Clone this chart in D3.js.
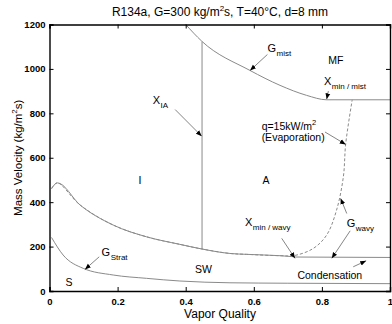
<!DOCTYPE html>
<html><head><meta charset="utf-8">
<script src="https://cdn.jsdelivr.net/npm/d3@7/dist/d3.min.js"></script>
<style>
body{margin:0;background:#fff;}
svg{display:block;font-family:Arial,"Liberation Sans",sans-serif;}
</style></head>
<body><svg id="c" width="392" height="324"></svg>
<script>
// ---- data (vapor quality q, mass velocity G) ----
const xTicks = [0, 0.2, 0.4, 0.6, 0.8, 1];
const yTicks = [0, 200, 400, 600, 800, 1000, 1200];

const mistQ = [0.40, 0.447, 0.589, 0.677, 0.755, 0.814, 1.0];
const mistG = [1200, 1125, 993, 926, 881, 861, 861];

const xiaQ = [0.448, 0.448];
const xiaG = [1123, 189];

const wavyQ = [0.006, 0.023, 0.09, 0.187, 0.285, 0.383, 0.448, 0.53, 0.579, 0.677, 0.72];
const wavyG = [461, 487, 387, 297, 244, 210, 189, 169, 165, 159, 154];

const condQ = [0.72, 1.0];
const condG = [153, 151];

const evapQ = [0.006, 0.023, 0.09, 0.187, 0.285, 0.383, 0.448, 0.53, 0.579, 0.677, 0.72, 0.775, 0.814, 0.843, 0.863, 0.87, 0.889];
const evapG = [461, 487, 387, 297, 244, 210, 189, 169, 165, 159, 160, 192, 252, 364, 514, 664, 861];

const stratQ = [0.006, 0.04, 0.099, 0.187, 0.285, 0.383, 0.53, 0.7, 1.0];
const stratG = [241, 162, 102, 72, 57, 45, 37, 35, 33];

// region / plain labels
const plainText = ["MF", "I", "A", "SW", "S"];
const plainQ = [0.841, 0.266, 0.636, 0.452, 0.057];
const plainG = [1038, 499, 497, 97, 39];

// subscripted labels
const subMain = ["G", "X", "X", "X", "G", "G"];
const subText = ["mist", "min / mist", "IA", "min / wavy", "wavy", "Strat"];
const subQ = [0.640, 0.806, 0.303, 0.574, 0.873, 0.153];
const subG = [1092, 946, 858, 310, 308, 175];

// arrows
const arrFromQ = [0.640, 0.819, 0.369, 0.809, 0.682, 0.873, 0.883, 0.892, 0.146];
const arrFromG = [1065, 900, 817, 716, 237, 349, 271, 109, 154];
const arrToQ   = [0.589, 0.814, 0.447, 0.870, 0.721, 0.855, 0.829, 0.930, 0.104];
const arrToG   = [993, 863, 697, 660, 147, 417, 147, 136, 97];

// ---- drawing ----
const svg = d3.select("#c");
const x = d3.scaleLinear().domain([0, 1]).range([49.5, 390]);
const y = d3.scaleLinear().domain([0, 1200]).range([291, 24.5]);
const gray = "#8a8a8a";

svg.append("defs").append("marker")
  .attr("id", "ah").attr("viewBox", "0 0 10 10").attr("refX", 10).attr("refY", 5)
  .attr("markerWidth", 6).attr("markerHeight", 6).attr("markerUnits", "userSpaceOnUse")
  .attr("orient", "auto")
  .append("path").attr("d", "M0,1 L10,5 L0,9 Z").attr("fill", "#000");

function series(qs, gs) { return qs.map((q, i) => [q, gs[i]]); }
const lineMono = d3.line().x(d => x(d[0])).y(d => y(d[1])).curve(d3.curveMonotoneX);
const lineCR = d3.line().x(d => x(d[0])).y(d => y(d[1])).curve(d3.curveCatmullRom.alpha(0.5));

const curves = svg.append("g").attr("fill", "none").attr("stroke", gray).attr("stroke-width", 1);
curves.append("path").attr("d", lineMono(series(mistQ, mistG)));
curves.append("path").attr("d", lineCR(series(xiaQ, xiaG)));
curves.append("path").attr("d", lineMono(series(wavyQ, wavyG)));
curves.append("path").attr("d", lineCR(series(condQ, condG)));
curves.append("path").attr("d", lineCR(series(evapQ, evapG))).attr("stroke-dasharray", "3,2");
curves.append("path").attr("d", lineMono(series(stratQ, stratG)));

// arrows
const ag = svg.append("g");
arrFromQ.forEach((q, i) => {
  ag.append("line")
    .attr("x1", x(q)).attr("y1", y(arrFromG[i]))
    .attr("x2", x(arrToQ[i])).attr("y2", y(arrToG[i]))
    .attr("stroke", "#666").attr("stroke-width", 0.8)
    .attr("marker-end", "url(#ah)");
});

// axes
const ax = svg.append("g");
ax.append("g").attr("transform", `translate(0,${y(0)})`)
  .call(d3.axisBottom(x).tickValues(xTicks).tickSize(-4).tickPadding(7).tickFormat(d3.format("~g")));
ax.append("g").attr("transform", `translate(0,${y(1200)})`)
  .call(d3.axisTop(x).tickValues(xTicks).tickSize(-4).tickFormat(""));
ax.append("g").attr("transform", `translate(${x(0)},0)`)
  .call(d3.axisLeft(y).tickValues(yTicks).tickSize(-4).tickPadding(4).tickFormat(d3.format("d")));
ax.append("g").attr("transform", `translate(${x(1)},0)`)
  .call(d3.axisRight(y).tickValues(yTicks).tickSize(-4).tickFormat(""));
ax.selectAll(".domain").attr("stroke", "#000").attr("stroke-width", 1.4);
ax.selectAll(".tick line").attr("stroke", "#000").attr("stroke-width", 1);
ax.selectAll(".tick text").attr("font-size", 9.5).attr("font-weight", "bold")
  .attr("font-family", "Arial, 'Liberation Sans', sans-serif").attr("fill", "#000");

// title
const title = svg.append("text").attr("x", 220).attr("y", 16).attr("text-anchor", "middle")
  .attr("font-size", 12).attr("fill", "#000");
title.append("tspan").text("R134a, G=300 kg/m");
title.append("tspan").attr("font-size", 8).attr("dy", -5).text("2");
title.append("tspan").attr("dy", 5).text("s, T=40°C, d=8 mm");

// axis titles
svg.append("text").attr("x", 220).attr("y", 318).attr("text-anchor", "middle")
  .attr("font-size", 12).text("Vapor Quality");
const yl = svg.append("text").attr("transform", `translate(22,${(y(0) + y(1200)) / 2}) rotate(-90)`)
  .attr("text-anchor", "middle").attr("font-size", 11.5);
yl.append("tspan").text("Mass Velocity (kg/m");
yl.append("tspan").attr("font-size", 8).attr("dy", -5).text("2");
yl.append("tspan").attr("dy", 5).text("s)");

// plain labels
const lg = svg.append("g").attr("font-size", 10.5).attr("fill", "#000");
plainText.forEach((t, i) => {
  lg.append("text").attr("x", x(plainQ[i])).attr("y", y(plainG[i])).attr("dy", "0.36em")
    .attr("text-anchor", "middle").text(t);
});
// condensation
lg.append("text").attr("x", x(0.728)).attr("y", y(70.6)).attr("dy", "0.36em").text("Condensation");
// q = 15 kW/m2 (Evaporation)
const qt = lg.append("text").attr("x", x(0.623)).attr("y", y(727));
qt.append("tspan").text("q=15kW/m");
qt.append("tspan").attr("font-size", 7.5).attr("dy", -5).text("2");
lg.append("text").attr("x", x(0.623)).attr("y", y(674)).text("(Evaporation)");

// subscripted labels
subMain.forEach((m, i) => {
  const t = lg.append("text").attr("x", x(subQ[i])).attr("y", y(subG[i])).attr("dy", "0.36em")
    .attr("font-size", 11);
  t.append("tspan").text(m);
  t.append("tspan").attr("font-size", 8).attr("dy", 4).attr("dx", 0.5).text(subText[i]);
});
</script></body></html>
